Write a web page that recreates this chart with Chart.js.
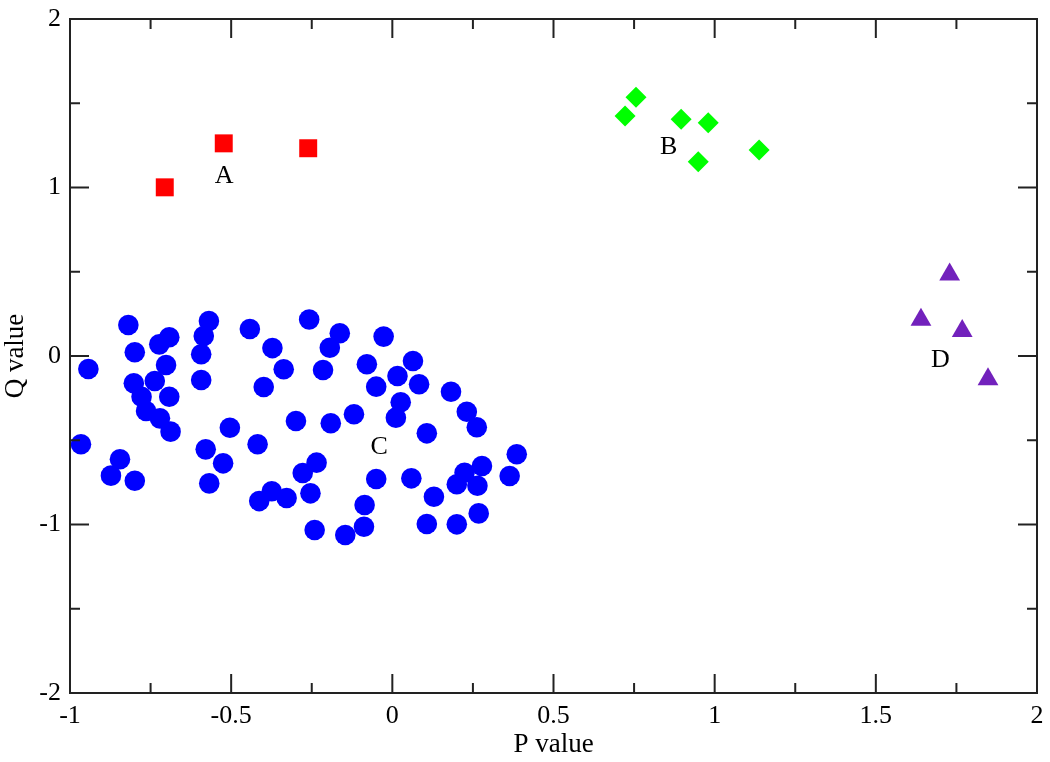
<!DOCTYPE html>
<html>
<head>
<meta charset="utf-8">
<script src="https://cdn.jsdelivr.net/npm/chart.js@4.4.1/dist/chart.umd.min.js"></script>
<style>
  html, body { margin: 0; padding: 0; background: #ffffff; }
  canvas { display: block; }
</style>
</head>
<body>
<canvas id="c" width="1050" height="762"></canvas>
<script>
// ---- Data ----
const groupA_x = [-0.523, -0.261, -0.706];
const groupA_y = [1.262, 1.233, 1.001];

const groupB_x = [0.756, 0.722, 0.896, 0.980, 0.949, 1.138];
const groupB_y = [1.535, 1.424, 1.405, 1.385, 1.153, 1.223];

const groupC_x = [
  -0.819, -0.799, -0.943, -0.723, -0.692, -0.702, -0.737, -0.802, -0.778, -0.692,
  -0.764, -0.721, -0.688, -0.569, -0.585, -0.593, -0.593, -0.442, -0.372, -0.337,
  -0.399, -0.299, -0.504, -0.418, -0.966, -0.579, -0.525, -0.568, -0.845, -0.873,
  -0.799, -0.413, -0.374, -0.328, -0.278, -0.258, -0.241, -0.163, -0.194, -0.215,
  -0.027, -0.079, 0.064, 0.016, -0.050, 0.083, 0.182, 0.026, 0.011, 0.231,
  0.262, 0.107, -0.119, -0.191, -0.235, -0.254, -0.050, 0.059, -0.086, -0.088,
  -0.146, 0.129, 0.224, 0.278, 0.200, 0.264, 0.386, 0.364, 0.107, 0.200,
  0.268
];
const groupC_y = [
  0.184, 0.022, -0.077, 0.069, 0.111, -0.053, -0.148, -0.162, -0.242, -0.242,
  -0.326, -0.370, -0.449, 0.208, 0.119, 0.010, -0.142, 0.160, 0.047, -0.079,
  -0.184, -0.386, -0.426, -0.524, -0.524, -0.554, -0.637, -0.756, -0.613, -0.710,
  -0.740, -0.861, -0.803, -0.843, -0.694, 0.217, -1.033, 0.135, 0.049, -0.083,
  0.115, -0.049, -0.030, -0.119, -0.182, -0.168, -0.212, -0.275, -0.366, -0.331,
  -0.423, -0.459, -0.346, -0.399, -0.633, -0.815, -0.730, -0.726, -0.884, -1.013,
  -1.062, -0.835, -0.693, -0.653, -0.761, -0.770, -0.583, -0.712, -0.997, -0.999,
  -0.934
];

const groupD_x = [1.729, 1.640, 1.768, 1.848];
const groupD_y = [0.483, 0.215, 0.148, -0.138];

// Group text labels (placed at data coordinates, baseline)
const labelText = ["A", "B", "C", "D"];
const labelX = [-0.522, 0.857, -0.041, 1.700];
const labelY = [1.025, 1.199, -0.582, -0.064];

// Axis ticks
const xTickValues = [-1, -0.5, 0, 0.5, 1, 1.5, 2];
const xTickLabels = ["-1", "-0.5", "0", "0.5", "1", "1.5", "2"];
const xMinorValues = [-0.75, -0.25, 0.25, 0.75, 1.25, 1.75];
const yTickValues = [-2, -1, 0, 1, 2];
const yTickLabels = ["-2", "-1", "0", "1", "2"];
const yMinorValues = [-1.5, -0.5, 0.5, 1.5];

const xTitle = "P value";
const yTitle = "Q value";

function pts(xs, ys) { return xs.map((x, i) => ({ x: x, y: ys[i] })); }

const FONT = "'Liberation Serif', 'DejaVu Serif', serif";

function zeroPad(scale) {
  scale.paddingTop = 0; scale.paddingBottom = 0;
  scale.paddingLeft = 0; scale.paddingRight = 0;
}

const framePlugin = {
  id: 'frame',
  beforeDraw(chart) {
    const ctx = chart.ctx;
    ctx.save();
    ctx.fillStyle = '#ffffff';
    ctx.fillRect(0, 0, chart.width, chart.height);
    ctx.restore();
  },
  afterDatasetsDraw(chart) {
    const ctx = chart.ctx;
    const xs = chart.scales.x, ys = chart.scales.y;
    const a = chart.chartArea;
    ctx.save();
    // group labels
    ctx.fillStyle = '#000000';
    ctx.font = "26px " + FONT;
    ctx.textAlign = 'center';
    ctx.textBaseline = 'alphabetic';
    labelText.forEach((t, i) => {
      ctx.fillText(t, xs.getPixelForValue(labelX[i]), ys.getPixelForValue(labelY[i]));
    });
    // frame
    ctx.strokeStyle = '#222222';
    ctx.lineWidth = 2;
    ctx.strokeRect(a.left, a.top, a.right - a.left, a.bottom - a.top);
    const MAJ = 19, MIN = 10;
    ctx.beginPath();
    const xt = (v, len) => {
      const p = xs.getPixelForValue(v);
      ctx.moveTo(p, a.bottom); ctx.lineTo(p, a.bottom - len);
      ctx.moveTo(p, a.top); ctx.lineTo(p, a.top + len);
    };
    const yt = (v, len) => {
      const p = ys.getPixelForValue(v);
      ctx.moveTo(a.left, p); ctx.lineTo(a.left + len, p);
      ctx.moveTo(a.right, p); ctx.lineTo(a.right - len, p);
    };
    xTickValues.forEach(v => xt(v, MAJ));
    xMinorValues.forEach(v => xt(v, MIN));
    yTickValues.forEach(v => yt(v, MAJ));
    yMinorValues.forEach(v => yt(v, MIN));
    ctx.stroke();
    ctx.restore();
  }
};

new Chart(document.getElementById('c'), {
  type: 'scatter',
  data: {
    datasets: [
      { label: 'C', data: pts(groupC_x, groupC_y), pointStyle: 'circle', pointRadius: 10.3,
        backgroundColor: '#0000ff', borderColor: '#0000ff', borderWidth: 0 },
      { label: 'A', data: pts(groupA_x, groupA_y), pointStyle: 'rect', pointRadius: 12.7,
        backgroundColor: '#ff0000', borderColor: '#ff0000', borderWidth: 0 },
      { label: 'B', data: pts(groupB_x, groupB_y), pointStyle: 'rectRot', pointRadius: 10.5,
        backgroundColor: '#00ff00', borderColor: '#00ff00', borderWidth: 0 },
      { label: 'D', data: pts(groupD_x, groupD_y), pointStyle: 'triangle', pointRadius: 12,
        backgroundColor: 'rgb(114,33,188)', borderColor: 'rgb(114,33,188)', borderWidth: 0 }
    ]
  },
  options: {
    responsive: false,
    animation: false,
    events: [],
    layout: { padding: { top: 19, right: 13, left: 0, bottom: 0 } },
    plugins: { legend: { display: false }, tooltip: { enabled: false } },
    scales: {
      x: {
        type: 'linear', min: -1, max: 2,
        afterBuildTicks(scale) { scale.ticks = xTickValues.map(v => ({ value: v })); },
        afterFit(scale) { scale.height = 69; zeroPad(scale); },
        grid: { display: false, drawTicks: false },
        border: { display: false },
        ticks: {
          padding: 8, color: '#000000', maxRotation: 0, autoSkip: false,
          font: { family: FONT, size: 26 },
          callback: (v) => { const i = xTickValues.indexOf(v); return i >= 0 ? xTickLabels[i] : ''; }
        },
        title: { display: true, text: xTitle, color: '#000000', padding: { top: 0, bottom: 1 },
          font: { family: FONT, size: 27 } }
      },
      y: {
        type: 'linear', min: -2, max: 2,
        afterBuildTicks(scale) { scale.ticks = yTickValues.map(v => ({ value: v })); },
        afterFit(scale) { scale.width = 70; zeroPad(scale); },
        grid: { display: false, drawTicks: false },
        border: { display: false },
        ticks: {
          padding: 9, color: '#000000', autoSkip: false,
          font: { family: FONT, size: 26 },
          callback: (v) => { const i = yTickValues.indexOf(v); return i >= 0 ? yTickLabels[i] : ''; }
        },
        title: { display: true, text: yTitle, color: '#000000', padding: { top: 0, bottom: 0 },
          font: { family: FONT, size: 27 } }
      }
    }
  },
  plugins: [framePlugin]
});
</script>
</body>
</html>
